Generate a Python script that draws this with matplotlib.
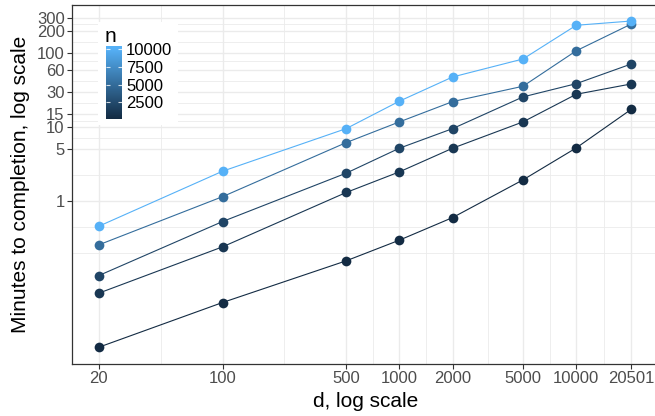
import matplotlib
matplotlib.use('Agg')

import matplotlib.pyplot as plt
import numpy as np
from matplotlib.colors import LinearSegmentedColormap, Normalize
from matplotlib.patches import Rectangle
from matplotlib.ticker import FixedLocator, NullFormatter

plt.rcParams['font.family'] = ['Liberation Sans', 'DejaVu Sans']

########
# data #
########
d_values = [20, 100, 500, 1000, 2000, 5000, 10000, 20501]
n_values = [100, 1000, 2000, 5000, 10000]

minutes = {
    100:   [0.0106, 0.0426, 0.156, 0.297, 0.600, 1.94, 5.25, 17.5],
    1000:  [0.0571, 0.241, 1.31, 2.49, 5.2, 11.8, 27.9, 38.5],
    2000:  [0.0988, 0.530, 2.39, 5.2, 9.57, 25.7, 38.8, 71.7],
    5000:  [0.257, 1.15, 6.19, 11.8, 22.2, 35.8, 108, 249],
    10000: [0.459, 2.54, 9.57, 22.5, 47.8, 83.7, 239, 273],
}

x_breaks = [20, 100, 500, 1000, 2000, 5000, 10000, 20501]
y_breaks = [1, 5, 10, 15, 30, 60, 100, 200, 300]
legend_breaks = [2500, 5000, 7500, 10000]

W, H = 655, 416

def px(x, y, w, h):
    # pixel box (top-left origin) -> figure fraction
    return [x / W, 1 - (y + h) / H, w / W, h / H]

def ggplot_minor(breaks, lims):
    # minor breaks the way ggplot2 computes them, in log space
    b = list(np.log10(breaks))
    lo, hi = np.log10(lims)
    bd = b[1] - b[0]
    if lo < b[0]:
        b = [b[0] - bd] + b
    if hi > b[-1]:
        b = b + [b[-1] + bd]
    out = []
    for a, c in zip(b[:-1], b[1:]):
        out += [a, (a + c) / 2]
    out.append(b[-1])
    return [10**v for v in out if lo <= v <= hi]

def expand_log(vals, frac=0.05):
    lo, hi = np.log10(min(vals)), np.log10(max(vals))
    r = hi - lo
    return 10**(lo - frac * r), 10**(hi + frac * r)

cmap = LinearSegmentedColormap.from_list('gg', ['#132B43', '#56B1F7'])
norm = Normalize(vmin=min(n_values), vmax=max(n_values))

fig = plt.figure(figsize=(W / 100, H / 100), dpi=100)

xlim = expand_log(d_values)
ylim = expand_log([v for n in n_values for v in minutes[n]])

ax = fig.add_axes(px(72.3, 4.7, 658 - 72.3, 363.5 - 4.7))
ax.set_xscale('log')
ax.set_yscale('log')
ax.set_xlim(*xlim)
ax.set_ylim(*ylim)

for n in n_values:
    ax.plot(d_values, minutes[n], '-', color=cmap(norm(n)), lw=0.8, zorder=3)
for n in n_values:
    ax.plot(d_values, minutes[n], 'o', color=cmap(norm(n)), ms=7, mew=0, zorder=4)

###################
# ticks and grids #
###################
ax.xaxis.set_major_locator(FixedLocator(x_breaks))
ax.xaxis.set_major_formatter(matplotlib.ticker.FixedFormatter([str(v) for v in x_breaks]))
ax.yaxis.set_major_locator(FixedLocator(y_breaks))
ax.yaxis.set_major_formatter(matplotlib.ticker.FixedFormatter([str(v) for v in y_breaks]))
ax.xaxis.set_minor_locator(FixedLocator(ggplot_minor(x_breaks, xlim)))
ax.yaxis.set_minor_locator(FixedLocator(ggplot_minor(y_breaks, ylim)))
ax.xaxis.set_minor_formatter(NullFormatter())
ax.yaxis.set_minor_formatter(NullFormatter())

ax.tick_params(which='major', length=3.5, width=0.8, color='#333333',
               labelcolor='#4D4D4D', labelsize=12, pad=2)
ax.tick_params(which='minor', length=0)
ax.grid(which='minor', color='#EBEBEB', lw=0.6)
ax.grid(which='major', color='#EBEBEB', lw=1.0)
ax.set_axisbelow(True)
for s in ax.spines.values():
    s.set_color('#333333')
    s.set_linewidth(0.9)

ax.set_xlabel('d, log scale', fontsize=15, labelpad=4)
ax.set_ylabel('Minutes to completion, log scale', fontsize=15, labelpad=5)

##########
# legend #
##########
fig.add_artist(Rectangle((98 / W, 1 - 125 / H), 80 / W, 103 / H,
                         transform=fig.transFigure, facecolor='white',
                         edgecolor='none', zorder=1))

cb_lo = 2500 - 17 * 7500 / 53
cb_hi = 10000 + 3.3 * 7500 / 53
cax = fig.add_axes(px(106, 46, 16, 73.3), zorder=2)
grad = np.linspace(cb_lo, cb_hi, 200).reshape(-1, 1)
cax.imshow(norm(grad), cmap=cmap, vmin=0, vmax=1, aspect='auto',
           origin='lower', extent=(0, 1, cb_lo, cb_hi))
cax.set_xlim(0, 1)
cax.set_ylim(cb_lo, cb_hi)
cax.hlines(legend_breaks, 0, 0.22, color='white', lw=0.8, alpha=0.8)
cax.hlines(legend_breaks, 0.78, 1, color='white', lw=0.8, alpha=0.8)
cax.set_xticks([])
cax.yaxis.tick_right()
cax.set_yticks(legend_breaks)
cax.set_yticklabels([str(v) for v in legend_breaks])
cax.tick_params(axis='y', length=0, pad=3, labelsize=12, labelcolor='black')
for s in cax.spines.values():
    s.set_visible(False)
fig.text(105 / W, 1 - 37 / H, 'n', fontsize=15, ha='left', va='center', zorder=3)

plt.savefig('out.png', dpi=100)
plt.close()
